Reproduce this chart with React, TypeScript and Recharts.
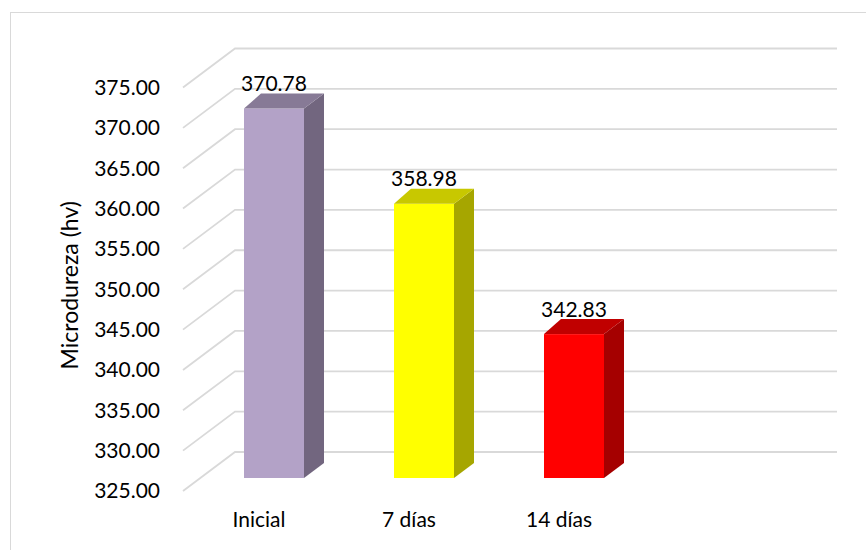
import React from 'react';
import { BarChart, Bar, XAxis, YAxis, CartesianGrid, LabelList, Label } from 'recharts';

const categories = ['Inicial', '7 días', '14 días', ''];
const hardness: (number | null)[] = [370.78, 358.98, 342.83, null];
const yTicks = [325, 330, 335, 340, 345, 350, 355, 360, 365, 370, 375];
const yTitle = 'Microdureza (hv)';

const frontColors = ['#B3A2C7', '#FFFF00', '#FF0000'];
const sideColors = ['#72667F', '#A6A600', '#A50000'];
const topColors = ['#877A96', '#C8C800', '#C00000'];

const data = categories.map((name, i) => ({ name, value: hardness[i] }));

const FONT = 'Lato, "Open Sans", sans-serif';
// depth geometry of the pseudo-3D view
const WALL_DX = 51;
const WALL_DY = -39;
const BAR_DX = 15;
const BAR_DY = -13;
const TOP_DXL = 17;
const TOP_DXR = 20;
const TOP_DY = -15;

const GridLine = (props: any) => {
  const { x1, x2, y1 } = props;
  const d = `M${x1 - 1},${y1} L${x1 + WALL_DX},${y1 + WALL_DY} L${x2 + WALL_DX + 2},${y1 + WALL_DY}`;
  return <path d={d} fill="none" stroke="#D9D9D9" strokeWidth={1.8} />;
};

const Bar3D = (props: any) => {
  const { x, y, width, height, index, value } = props;
  if (value == null || !isFinite(y)) return null;
  const x0 = x + BAR_DX;
  const x1 = x0 + width;
  const y0 = y + BAR_DY;
  const yb = y + height + BAR_DY;
  const side = `M${x1},${y0} L${x1 + TOP_DXR},${y0 + TOP_DY} L${x1 + TOP_DXR},${yb + TOP_DY} L${x1},${yb} Z`;
  const top = `M${x0},${y0} L${x1},${y0} L${x1 + TOP_DXR},${y0 + TOP_DY} L${x0 + TOP_DXL},${y0 + TOP_DY} Z`;
  return (
    <g>
      <rect x={x0} y={y0} width={width} height={yb - y0} fill={frontColors[index]} />
      <path d={side} fill={sideColors[index]} />
      <path d={top} fill={topColors[index]} />
    </g>
  );
};

const ValueLabel = (props: any) => {
  const { x, y, width, value } = props;
  if (value == null) return null;
  return (
    <text
      x={x + BAR_DX + width / 2}
      y={y + BAR_DY - 17.5}
      textAnchor="middle"
      fontFamily={FONT}
      fontSize={21}
      fill="#000"
    >
      {Number(value).toFixed(2)}
    </text>
  );
};

const AxisTitle = (props: any) => {
  const { viewBox } = props;
  const cx = viewBox.x - 6;
  const cy = viewBox.y + viewBox.height / 2 - 4;
  return (
    <text
      x={cx}
      y={cy}
      transform={`rotate(-90 ${cx} ${cy})`}
      textAnchor="middle"
      fontFamily={FONT}
      fontSize={23}
      fill="#000"
    >
      {yTitle}
    </text>
  );
};

export default function App() {
  return (
    <div style={{ position: 'absolute', left: 0, top: 0, width: 866, height: 550, overflow: 'hidden', background: '#fff' }}>
      <div
        style={{
          position: 'absolute',
          left: 10,
          top: 12,
          width: 900,
          height: 600,
          borderLeft: '1.5px solid #D9D9D9',
          borderTop: '1.5px solid #D9D9D9',
        }}
      />
      <div style={{ position: 'absolute', left: 0, top: 0 }}>
        <BarChart
          width={866}
          height={550}
          data={data}
          margin={{ top: 87.5, right: 82, bottom: 19, left: 84 }}
          barSize={60}
        >
          <CartesianGrid vertical={false} horizontal={(p: any) => <GridLine key={p.key} {...p} />} />
          <XAxis
            dataKey="name"
            axisLine={false}
            tickLine={false}
            tickSize={0}
            tickMargin={21}
            height={40}
            interval={0}
            tick={{ fontFamily: FONT, fontSize: 21, fill: '#000' }}
          />
          <YAxis
            type="number"
            domain={[325, 375]}
            ticks={yTicks}
            interval={0}
            width={100}
            axisLine={false}
            tickLine={false}
            tickSize={0}
            tickMargin={24}
            tickFormatter={(v: number) => v.toFixed(2)}
            tick={{ fontFamily: FONT, fontSize: 21, fill: '#000' }}
          >
            <Label content={<AxisTitle />} />
          </YAxis>
          <Bar dataKey="value" isAnimationActive={false} shape={<Bar3D />}>
            <LabelList dataKey="value" content={<ValueLabel />} />
          </Bar>
        </BarChart>
      </div>
    </div>
  );
}
